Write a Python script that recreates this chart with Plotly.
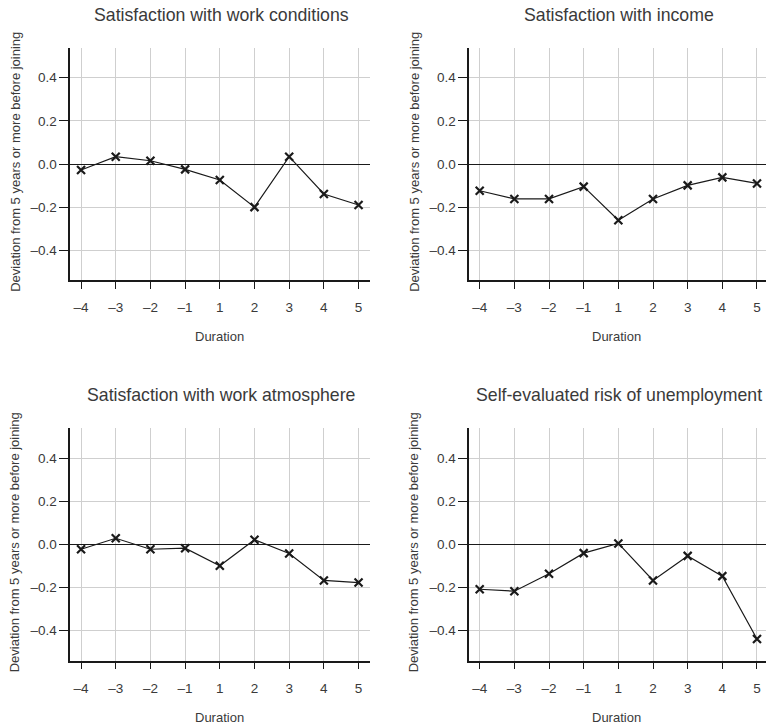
import plotly.graph_objects as go

# ---- data ----
durations = ["–4", "–3", "–2", "–1", "1", "2", "3", "4", "5"]
work_conditions = [-0.028, 0.034, 0.015, -0.025, -0.074, -0.200, 0.034, -0.139, -0.190]
income = [-0.124, -0.162, -0.162, -0.105, -0.261, -0.162, -0.099, -0.062, -0.090]
work_atmosphere = [-0.022, 0.029, -0.022, -0.017, -0.099, 0.022, -0.042, -0.167, -0.177]
unemployment_risk = [-0.208, -0.217, -0.136, -0.040, 0.005, -0.167, -0.053, -0.147, -0.439]

titles = ["Satisfaction with work conditions", "Satisfaction with income",
          "Satisfaction with work atmosphere", "Self-evaluated risk of unemployment"]
series = [work_conditions, income, work_atmosphere, unemployment_risk]
y_tick_vals = [-0.4, -0.2, 0.0, 0.2, 0.4]
y_tick_text = ["–0.4", "–0.2", "0.0", "0.2", "0.4"]
x_title = "Duration"
y_title = "Deviation from 5 years or more before joining"

W, H = 766, 727


def px_x(v):
    return v / W


def px_y(v):
    return 1 - v / H


FONT = "Liberation Sans, Arial, sans-serif"
TXT = "#3a3a3a"

# panel boxes in px: (left, right, top, bottom)
boxes = [(70.3, 370, 48, 280), (469.3, 766, 48, 280),
         (70.3, 370, 428.3, 660.7), (469.3, 766, 428.3, 660.7)]
x_ranges = [[-0.31, 8.33], [-0.30, 8.26], [-0.31, 8.33], [-0.30, 8.26]]
y_ranges = [[-0.538, 0.538], [-0.538, 0.538], [-0.54, 0.54], [-0.54, 0.54]]

fig = go.Figure()
annotations = []
layout = {}
xpos = list(range(len(durations)))
for i, (vals, title, box) in enumerate(zip(series, titles, boxes)):
    n = "" if i == 0 else str(i + 1)
    xa, ya = "x" + n, "y" + n
    fig.add_trace(go.Scatter(
        x=xpos, y=vals, xaxis=xa, yaxis=ya, mode="lines+markers",
        line=dict(color="#1a1a1a", width=1.2),
        marker=dict(symbol="x-thin", size=8, line=dict(color="#1a1a1a", width=2.2)),
        showlegend=False, hoverinfo="skip"))
    l, r, t, b = box
    layout["xaxis" + n] = dict(
        domain=[px_x(l), min(1.0, px_x(r))], anchor=ya, range=x_ranges[i],
        tickmode="array", tickvals=xpos, ticktext=durations,
        showgrid=True, gridcolor="#cfcfcf", gridwidth=1,
        showline=True, linecolor="#1a1a1a", linewidth=1.5,
        ticks="outside", ticklen=7, tickcolor="#1a1a1a", tickwidth=1.2,
        ticklabelstandoff=7,
        tickfont=dict(family=FONT, size=13.5, color=TXT), zeroline=False)
    layout["yaxis" + n] = dict(
        domain=[px_y(b), px_y(t)], anchor=xa, range=y_ranges[i],
        tickmode="array", tickvals=y_tick_vals, ticktext=y_tick_text,
        showgrid=True, gridcolor="#cfcfcf", gridwidth=1,
        showline=True, linecolor="#1a1a1a", linewidth=1.8,
        ticks="outside", ticklen=9, tickcolor="#1a1a1a", tickwidth=1.2,
        tickfont=dict(family=FONT, size=13.5, color=TXT),
        zeroline=True, zerolinecolor="#1a1a1a", zerolinewidth=1.3)
    annotations.append(dict(text=title, x=px_x((l + r) / 2 + 1), y=px_y(t - 33),
                            xref="paper", yref="paper", showarrow=False,
                            xanchor="center", yanchor="middle",
                            font=dict(family=FONT, size=17.7, color=TXT)))
    annotations.append(dict(text=x_title, x=px_x((l + r) / 2 - 1), y=px_y(b + 57),
                            xref="paper", yref="paper", showarrow=False,
                            xanchor="center", yanchor="middle",
                            font=dict(family=FONT, size=13, color=TXT)))
    annotations.append(dict(text=y_title, x=px_x(l - 55.5), y=px_y((t + b) / 2 - 2),
                            xref="paper", yref="paper", showarrow=False, textangle=-90,
                            xanchor="center", yanchor="middle",
                            font=dict(family=FONT, size=13, color=TXT)))

fig.update_layout(width=W, height=H, margin=dict(l=0, r=0, t=0, b=0),
                  paper_bgcolor="white", plot_bgcolor="white",
                  annotations=annotations, **layout)
fig.write_html(
    "out.html",
    config={"displayModeBar": False},
    post_script="document.body.style.margin='0';"
                "document.documentElement.style.overflow='hidden';"
                "document.body.style.overflow='hidden';")
